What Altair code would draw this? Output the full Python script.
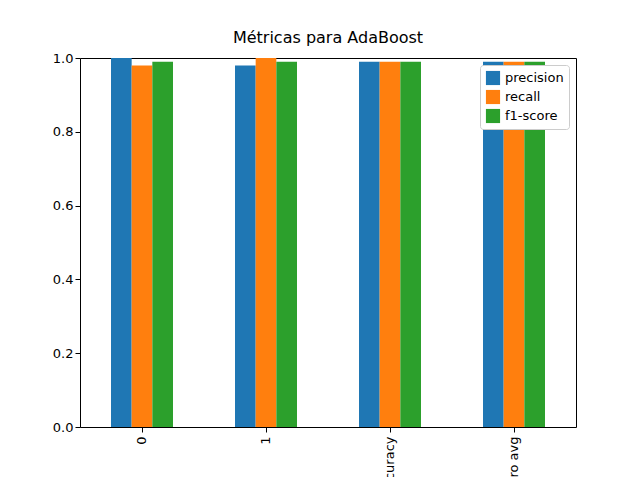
import altair as alt
import pandas as pd

categories = ["0", "1", "accuracy", "macro avg"]
metrics = ["precision", "recall", "f1-score"]
precision = [1.00, 0.98, 0.99, 0.99]
recall = [0.98, 1.00, 0.99, 0.99]
f1 = [0.99, 0.99, 0.99, 0.99]

rows = []
for i, c in enumerate(categories):
    for m, vals in zip(metrics, [precision, recall, f1]):
        rows.append({"clase": c, "metrica": m, "valor": vals[i]})
df = pd.DataFrame(rows)

chart = (
    alt.Chart(df)
    .mark_bar()
    .encode(
        x=alt.X("clase:N", sort=categories, title=None,
                scale=alt.Scale(paddingInner=0.5, paddingOuter=0.25),
                axis=alt.Axis(labelAngle=-90, labelAlign="right", labelBaseline="middle",
                              labelFontSize=13, labelColor="black", tickColor="black",
                              tickSize=5, domain=False, labelPadding=4)),
        xOffset=alt.XOffset("metrica:N", sort=metrics, scale=alt.Scale(paddingInner=0, paddingOuter=0)),
        y=alt.Y("valor:Q", title=None, scale=alt.Scale(domain=[0, 1], nice=False),
                axis=alt.Axis(values=[0, 0.2, 0.4, 0.6, 0.8, 1.0], format=".1f", grid=False,
                              labelFontSize=13, labelColor="black", tickColor="black",
                              tickSize=5, domain=False)),
        color=alt.Color("metrica:N", sort=metrics, title=None,
                        scale=alt.Scale(domain=metrics, range=["#1f77b4", "#ff7f0e", "#2ca02c"]),
                        legend=alt.Legend(orient="top-right", offset=7, symbolType="square",
                                          symbolSize=200, labelFontSize=13, padding=5,
                                          rowPadding=3, strokeColor="#cccccc", fillColor="white",
                                          cornerRadius=3, labelColor="black")),
    )
    .properties(
        width=496, height=369,
        title=alt.TitleParams("Métricas para AdaBoost", fontSize=16, fontWeight="normal", offset=6),
        autosize=alt.AutoSizeParams(type="none"),
        padding={"left": 72, "top": 50, "right": 56, "bottom": 50},
    )
    .configure(font="DejaVu Sans")
    .configure_view(stroke="black", strokeWidth=1)
)

chart.save("out.html", embed_options={"renderer": "svg", "actions": False})
